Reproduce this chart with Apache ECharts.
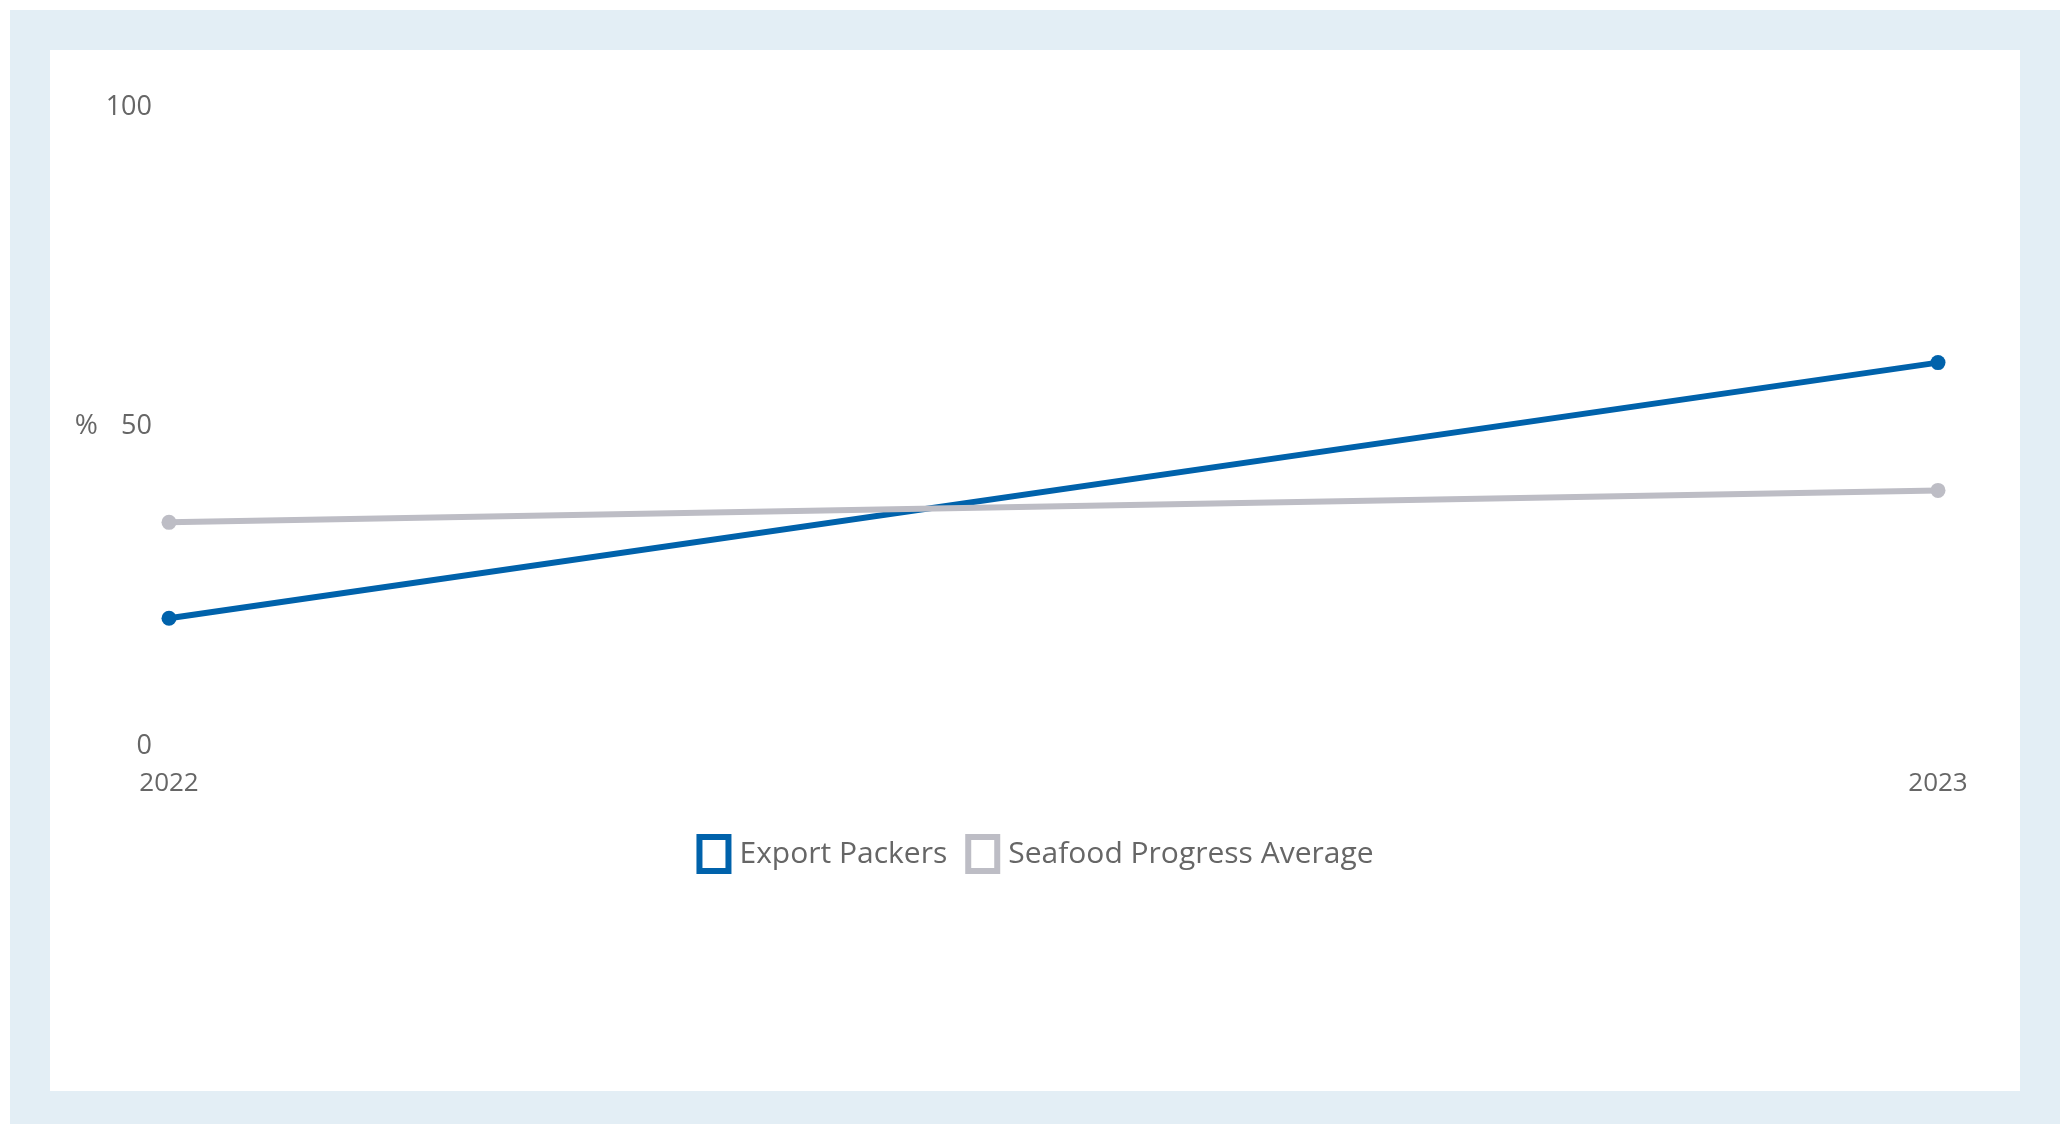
<!DOCTYPE html>
<html>
<head>
<meta charset="utf-8">
<script src="https://cdn.jsdelivr.net/npm/echarts@6/dist/echarts.min.js"></script>
<style>
  html, body { margin: 0; padding: 0; width: 2070px; height: 1124px; background: #ffffff; overflow: hidden; }
  #frame { position: absolute; left: 10px; top: 10px; width: 2050px; height: 1114px; background: #E3EEF5; }
  #chart { position: absolute; left: 50px; top: 50px; width: 1970px; height: 1041px; background: #ffffff; }
</style>
</head>
<body>
<div id="frame"></div>
<div id="chart"></div>
<script>
const categories = ['2022', '2023'];
const exportPackers = [20, 60];
const seafoodAverage = [35, 40];
const yTicks = [0, 50, 100];

const seriesNames = ['Export Packers', 'Seafood Progress Average'];
const colors = ['#0062AB', '#BDBDC5'];
const font = '"Open Sans", "Noto Sans", sans-serif';

const chart = echarts.init(document.getElementById('chart'));
chart.setOption({
  animation: false,
  grid: { left: 119, right: 82, top: 57, bottom: 345, containLabel: false },
  legend: {
    top: 779,
    left: 'center',
    itemWidth: 29,
    itemHeight: 34,
    itemGap: 18,
    icon: 'rect',
    textStyle: { fontFamily: font, fontSize: 30, color: '#666666', padding: [0, 0, 0, 6] },
    data: seriesNames.map((n, i) => ({
      name: n,
      itemStyle: { color: '#ffffff', borderColor: colors[i], borderWidth: 6 }
    }))
  },
  xAxis: {
    type: 'category',
    data: categories,
    boundaryGap: false,
    axisLine: { show: false },
    axisTick: { show: false },
    splitLine: { show: false },
    axisLabel: { margin: 25, fontFamily: font, fontSize: 26, color: '#666666' }
  },
  yAxis: {
    type: 'value',
    min: yTicks[0],
    max: yTicks[yTicks.length - 1],
    interval: yTicks[1] - yTicks[0],
    name: '%',
    nameLocation: 'middle',
    nameRotate: 0,
    nameGap: 71,
    nameTextStyle: { fontFamily: font, fontSize: 28, color: '#666666' },
    axisLine: { show: false },
    axisTick: { show: false },
    splitLine: { show: false },
    axisLabel: { margin: 17, fontFamily: font, fontSize: 27, color: '#666666' }
  },
  series: [
    {
      name: seriesNames[0], type: 'line', data: exportPackers,
      symbol: 'circle', symbolSize: 15,
      lineStyle: { width: 6, color: colors[0] },
      itemStyle: { color: colors[0] }
    },
    {
      name: seriesNames[1], type: 'line', data: seafoodAverage,
      symbol: 'circle', symbolSize: 15,
      lineStyle: { width: 6, color: colors[1] },
      itemStyle: { color: colors[1] }
    }
  ]
});
</script>
</body>
</html>
